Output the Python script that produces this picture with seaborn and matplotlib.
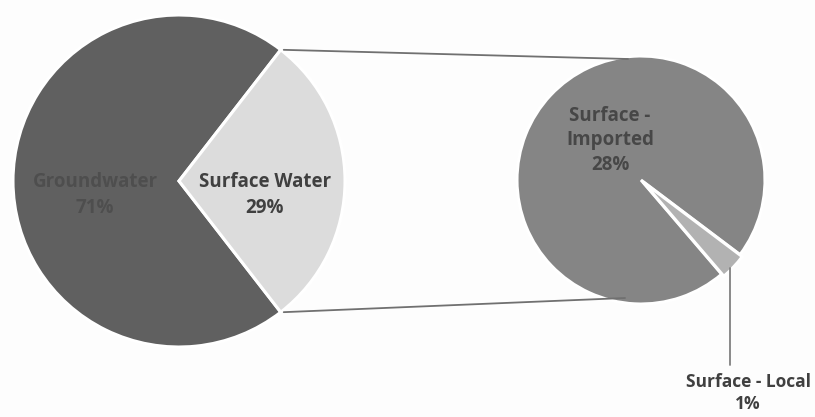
import matplotlib
matplotlib.use("Agg")
import matplotlib.pyplot as plt
import numpy as np
import seaborn as sns

# main pie
main_labels = ["Groundwater", "Surface Water"]
main_values = [71, 29]
main_colors = ["#606060", "#dcdcdc"]

# breakdown of surface water
sub_labels = ["Surface -\nImported", "Surface - Local"]
sub_values = [28, 1]
sub_colors = ["#858585", "#b2b2b2"]

sns.set_theme(style="white")
plt.rcParams["font.family"] = ["Open Sans", "DejaVu Sans"]

fig = plt.figure(figsize=(8.15, 4.17), dpi=100)
fig.patch.set_facecolor("#fdfdfd")
ax = fig.add_axes([0, 0, 1, 1])
ax.axis("off")

# left pie, surface water wedge centred on the right side
c1, r1 = (179, 236), 166
sw_angle = main_values[1] / sum(main_values) * 360
ax.pie(main_values, colors=main_colors, center=c1, radius=r1,
       startangle=sw_angle / 2, counterclock=True,
       wedgeprops=dict(edgecolor="white", linewidth=2.2))

# right pie
c2, r2 = (641, 237), 124
ax.pie(sub_values, colors=sub_colors, center=c2, radius=r2,
       startangle=-37, counterclock=True, explode=[0, 3],
       wedgeprops=dict(edgecolor="white", linewidth=2.2))
ax.set_xlim(0, 815)
ax.set_ylim(0, 417)
ax.set_aspect("equal")

# connector lines between the pies
theta = np.deg2rad(sw_angle / 2)
p_top = (c1[0] + r1 * np.cos(theta), c1[1] + r1 * np.sin(theta))
p_bot = (c1[0] + r1 * np.cos(theta), c1[1] - r1 * np.sin(theta))
ax.plot([p_top[0] + 3, c2[0] - 13], [p_top[1], c2[1] + r2 - 3],
        color="#707070", lw=1.3)
ax.plot([p_bot[0] + 3, c2[0] - 16], [p_bot[1], c2[1] - r2 + 6],
        color="#707070", lw=1.3)

# labels
fs = 13.5
ls = 1.45
ax.text(95, 222, f"{main_labels[0]}\n{main_values[0]}%", ha="center",
        va="center", fontsize=fs, fontweight="bold", color="#4e4e4e",
        linespacing=ls)
ax.text(265, 222, f"{main_labels[1]}\n{main_values[1]}%", ha="center",
        va="center", fontsize=fs, fontweight="bold", color="#404040",
        linespacing=ls)
ax.text(610, 277, f"{sub_labels[0]}\n{sub_values[0]}%", ha="center",
        va="center", fontsize=fs, fontweight="bold", color="#474747",
        linespacing=1.3)
ax.text(748, 24, f"{sub_labels[1]}\n{sub_values[1]}%", ha="center",
        va="center", fontsize=12.5, fontweight="bold", color="#404040",
        linespacing=1.35)
ax.plot([730, 730], [149, 52], color="#808080", lw=1.3)

fig.savefig("out.png", dpi=100, facecolor=fig.get_facecolor())
